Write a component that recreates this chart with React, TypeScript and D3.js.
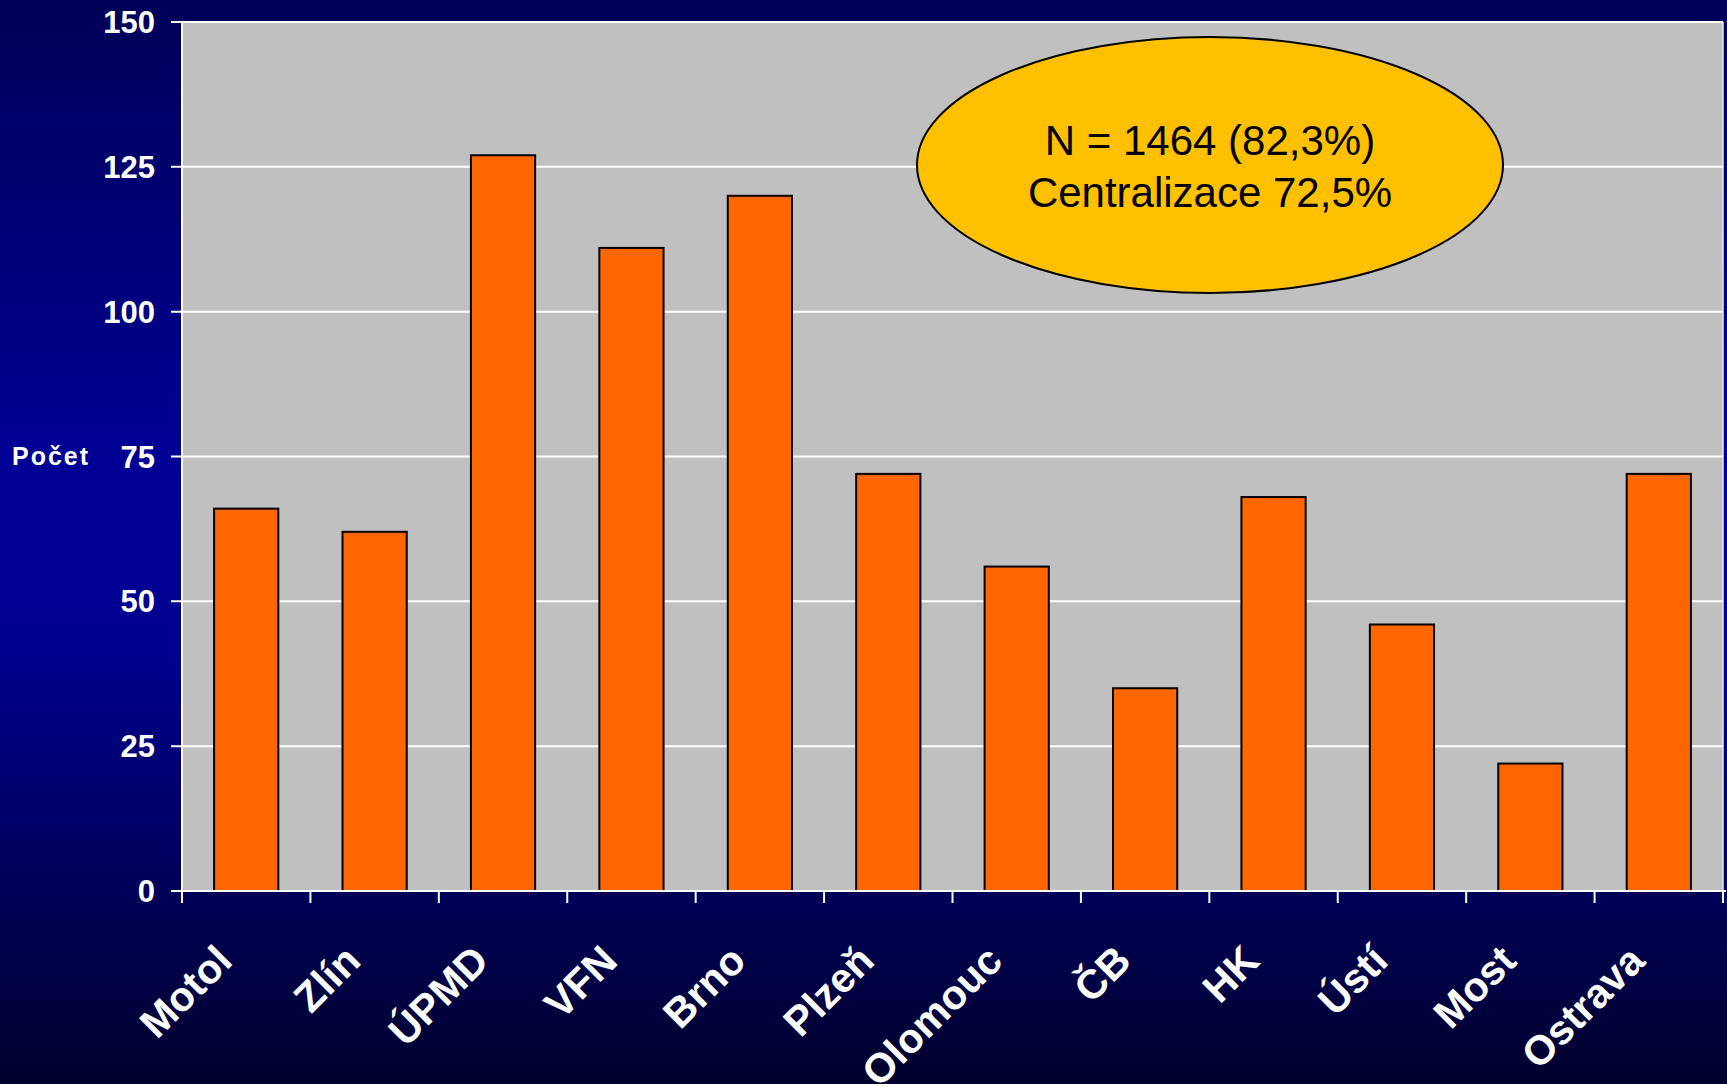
import React from "react";
import * as d3 from "d3";

const categories = ["Motol", "Zlín", "ÚPMD", "VFN", "Brno", "Plzeň", "Olomouc", "ČB", "HK", "Ústí", "Most", "Ostrava"];
const values = [66, 62, 127, 111, 120, 72, 56, 35, 68, 46, 22, 72];
const yTicks = [0, 25, 50, 75, 100, 125, 150];
const yLabel = "Počet";
const noteLines = ["N = 1464 (82,3%)", "Centralizace 72,5%"];

const W = 1727;
const H = 1084;
const left = 182;
const right = 1723;
const top = 22;
const bottom = 891;

export default function App() {
  const x = d3.scaleBand<string>().domain(categories).range([left, right]).paddingInner(0.5).paddingOuter(0.25);
  const xb = d3.scaleBand<string>().domain(categories).range([left, right]);
  const y = d3.scaleLinear().domain([0, 150]).range([bottom, top]);
  const font = "'Liberation Sans', Arial, sans-serif";
  const boundaries = [...categories.map((c) => xb(c) as number), right];

  return (
    <svg width={W} height={H} style={{ position: "absolute", left: 0, top: 0, display: "block" }}>
      <defs>
        <linearGradient id="bg" x1="0" y1="0" x2="0" y2="1">
          <stop offset="0" stopColor="#000058" />
          <stop offset="0.45" stopColor="#000098" />
          <stop offset="0.6" stopColor="#00008e" />
          <stop offset="1" stopColor="#00002c" />
        </linearGradient>
      </defs>
      <rect x={0} y={0} width={W} height={H} fill="url(#bg)" />
      <rect x={left} y={top} width={right - left} height={bottom - top} fill="#c0c0c0" />
      <line x1={right} x2={right} y1={top} y2={bottom} stroke="#e8e8e8" strokeWidth={1.5} />
      {yTicks.map((t) => (
        <g key={t}>
          <line x1={left - 11} x2={right} y1={y(t)} y2={y(t)} stroke="#ffffff" strokeWidth={2} />
          <text x={155} y={y(t)} dy="0.36em" textAnchor="end" fill="#ffffff" fontFamily={font} fontWeight="bold" fontSize={31}>
            {t}
          </text>
        </g>
      ))}
      {categories.map((c, i) => (
        <rect
          key={c}
          x={x(c)}
          y={y(values[i])}
          width={x.bandwidth()}
          height={y(0) - y(values[i])}
          fill="#ff6600"
          stroke="#000000"
          strokeWidth={2}
        />
      ))}
      <line x1={left} x2={left} y1={top} y2={bottom + 12} stroke="#ffffff" strokeWidth={2} />
      <line x1={left - 11} x2={right + 3} y1={bottom} y2={bottom} stroke="#ffffff" strokeWidth={2} />
      {boundaries.map((b, i) => (
        <line key={i} x1={b} x2={b} y1={bottom} y2={bottom + 12} stroke="#ffffff" strokeWidth={2} />
      ))}
      {categories.map((c) => {
        const cx = (xb(c) as number) + xb.bandwidth() / 2 - 12;
        const cy = bottom + 72;
        return (
          <text
            key={c}
            x={cx}
            y={cy}
            textAnchor="end"
            transform={`rotate(-45, ${cx}, ${cy})`}
            fill="#ffffff"
            fontFamily={font}
            fontWeight="bold"
            fontSize={41}
          >
            {c}
          </text>
        );
      })}
      <text x={12} y={456} dy="0.36em" fill="#ffffff" fontFamily={font} fontWeight="bold" fontSize={25} letterSpacing={2}>
        {yLabel}
      </text>
      <ellipse cx={1210} cy={165} rx={293} ry={128} fill="#ffc000" stroke="#000000" strokeWidth={2} />
      <text x={1210} y={155} textAnchor="middle" fill="#000000" fontFamily={font} fontSize={42}>
        {noteLines[0]}
      </text>
      <text x={1210} y={207} textAnchor="middle" fill="#000000" fontFamily={font} fontSize={42}>
        {noteLines[1]}
      </text>
    </svg>
  );
}
